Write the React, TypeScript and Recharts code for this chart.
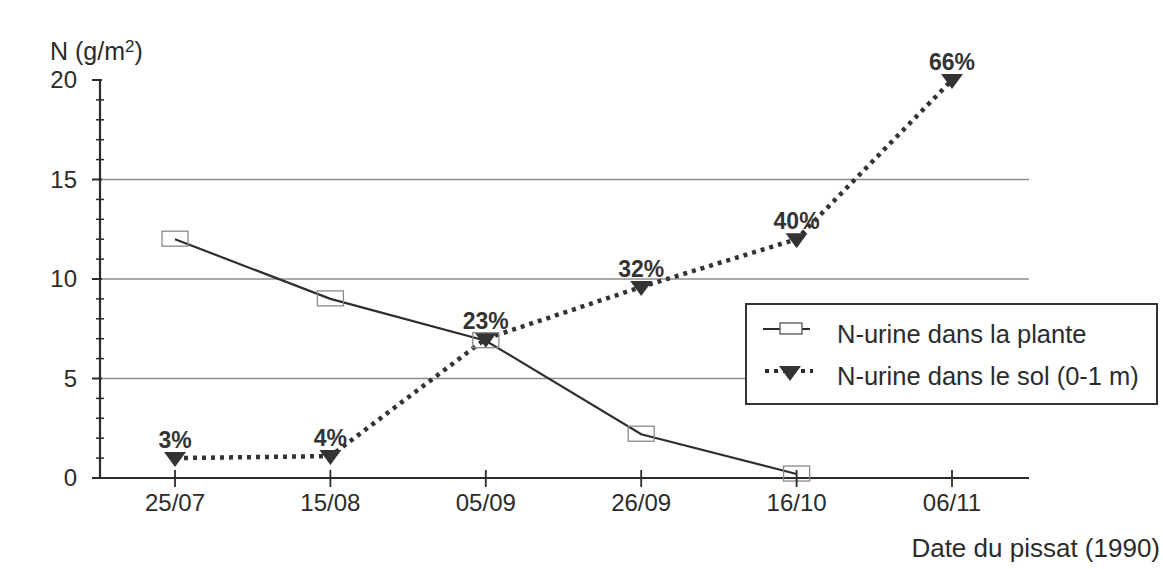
import React from 'react';
import { LineChart, Line, XAxis, YAxis, LabelList, Legend, ReferenceLine, Label } from 'recharts';

const categories = ['25/07', '15/08', '05/09', '26/09', '16/10', '06/11'];
const planteValues: (number | null)[] = [12, 9, 6.9, 2.2, 0.2, null];
const solValues = [1.0, 1.1, 7.0, 9.6, 12.0, 20];
const solPercents = ['3%', '4%', '23%', '32%', '40%', '66%'];
const yMajorTicks = [0, 5, 10, 15, 20];
const yAllTicks = [0, 1, 2, 3, 4, 5, 6, 7, 8, 9, 10, 11, 12, 13, 14, 15, 16, 17, 18, 19, 20];
const gridValues = [5, 10, 15];

const data = categories.map((c, i) => ({
  cat: c,
  plante: planteValues[i],
  sol: solValues[i],
  pct: solPercents[i],
}));

const FONT = '"Liberation Sans", Arial, Helvetica, sans-serif';
const INK = '#2b2b2b';

const YTick = (props: any) => {
  const { x, y, payload } = props;
  const major = yMajorTicks.includes(payload.value);
  return (
    <g>
      {major ? (
        <line x1={x - 8} x2={x + 2} y1={y} y2={y} stroke={INK} strokeWidth={2} />
      ) : (
        <line x1={x - 4} x2={x + 4} y1={y} y2={y} stroke={INK} strokeWidth={1.5} />
      )}
      {major && (
        <text x={x - 23} y={y + 8} textAnchor="end" fontSize={24} fontFamily={FONT} fill={INK}>
          {payload.value}
        </text>
      )}
    </g>
  );
};

const XTick = (props: any) => {
  const { x, y, payload } = props;
  return (
    <g>
      <line x1={x} x2={x} y1={y - 8} y2={y + 9} stroke={INK} strokeWidth={1.8} />
      <text x={x} y={y + 33} textAnchor="middle" fontSize={24} fontFamily={FONT} fill={INK}>
        {payload.value}
      </text>
    </g>
  );
};

const SquareDot = (props: any) => {
  const { cx, cy, index } = props;
  if (cx == null || cy == null || props.value == null) return <g key={`sq-${index}`} />;
  return (
    <rect key={`sq-${index}`} x={cx - 13} y={cy - 8} width={26} height={15} fill="none" stroke="#8a8a8a" strokeWidth={1.3} />
  );
};

const TriangleDot = (props: any) => {
  const { cx, cy, index } = props;
  if (cx == null || cy == null) return <g key={`tr-${index}`} />;
  return (
    <path key={`tr-${index}`} d={`M${cx - 11},${cy - 6} L${cx + 11},${cy - 6} L${cx},${cy + 9} Z`} fill="#333" />
  );
};

const PctLabel = (props: any) => {
  const { x, y, value } = props;
  return (
    <text x={x} y={y - 10} textAnchor="middle" fontSize={23} fontWeight="bold" fontFamily={FONT} fill="#333">
      {value}
    </text>
  );
};

const LegendBox = () => (
  <div style={{ width: 413, height: 102, background: '#fff', border: '2px solid #333', boxSizing: 'border-box' }}>
    <svg width={409} height={98} style={{ display: 'block' }}>
      <line x1={16} x2={63} y1={24} y2={24} stroke={INK} strokeWidth={2} />
      <rect x={33} y={18} width={22} height={11} fill="#fff" stroke="#555" strokeWidth={1.3} />
      <text x={90} y={38} fontSize={25.5} fontFamily={FONT} fill={INK}>N-urine dans la plante</text>
      <line x1={18} x2={66} y1={66} y2={66} stroke={INK} strokeWidth={4} strokeDasharray="4 5" />
      <path d="M32,61 L54,61 L43,76 Z" fill="#333" />
      <text x={90} y={80} fontSize={25.5} fontFamily={FONT} fill={INK}>N-urine dans le sol (0-1 m)</text>
    </svg>
  </div>
);

const YTitle = (props: any) => {
  const vb = props.viewBox || { x: 40, y: 80 };
  return (
    <text x={vb.x + 10} y={vb.y - 20} fontSize={25} fontFamily={FONT} fill={INK}>
      N (g/m<tspan dy={-8} fontSize={17}>2</tspan>
      <tspan dy={8}>)</tspan>
    </text>
  );
};

const XTitle = (props: any) => {
  const vb = props.viewBox || { x: 100, y: 478, width: 929 };
  return (
    <text x={vb.x + vb.width + 131} y={vb.y + 79} textAnchor="end" fontSize={26} fontFamily={FONT} fill={INK}>
      Date du pissat (1990)
    </text>
  );
};

export default function App() {
  return (
    <div style={{ position: 'absolute', left: 0, top: 0, background: '#fff' }}>
      <LineChart
        width={1163}
        height={569}
        data={data}
        margin={{ top: 80, right: 134, bottom: 51, left: 40 }}
      >
        <XAxis
          dataKey="cat"
          height={40}
          padding={{ left: 75, right: 77 }}
          axisLine={{ stroke: INK, strokeWidth: 2 }}
          tickLine={false}
          tickSize={0}
          tickMargin={0}
          tick={<XTick />}
          interval={0}
        >
          <Label content={<XTitle />} />
        </XAxis>
        <XAxis
          xAxisId="top"
          dataKey="cat"
          orientation="top"
          height={0}
          tick={false}
          tickLine={false}
          axisLine={{ stroke: '#444', strokeWidth: 2 }}
        />
        <YAxis
          domain={[0, 20]}
          ticks={yAllTicks}
          interval={0}
          width={60}
          axisLine={{ stroke: INK, strokeWidth: 2.2 }}
          tickLine={false}
          tickSize={0}
          tickMargin={0}
          tick={<YTick />}
        >
          <Label content={<YTitle />} />
        </YAxis>
        <YAxis
          yAxisId="right"
          orientation="right"
          domain={[0, 20]}
          width={0}
          tick={false}
          tickLine={false}
          axisLine={{ stroke: '#444', strokeWidth: 2 }}
        />
        {gridValues.map((v) => (
          <ReferenceLine key={v} y={v} stroke="#8c8c8c" strokeWidth={1.6} />
        ))}
        <Legend
          layout="vertical"
          align="center"
          verticalAlign="middle"
          content={<LegendBox />}
          wrapperStyle={{ left: 745, top: 303, width: 413, height: 102 }}
        />
        <Line
          dataKey="sol"
          stroke="#333"
          strokeWidth={4.5}
          strokeDasharray="4 5"
          dot={(p: any) => <TriangleDot key={`t${p.index}`} {...p} />}
          activeDot={false}
          isAnimationActive={false}
        >
          <LabelList dataKey="pct" content={<PctLabel />} />
        </Line>
        <Line
          dataKey="plante"
          stroke="#2e2e2e"
          strokeWidth={2.2}
          dot={(p: any) => <SquareDot key={`s${p.index}`} {...p} />}
          activeDot={false}
          isAnimationActive={false}
        />
      </LineChart>
    </div>
  );
}
